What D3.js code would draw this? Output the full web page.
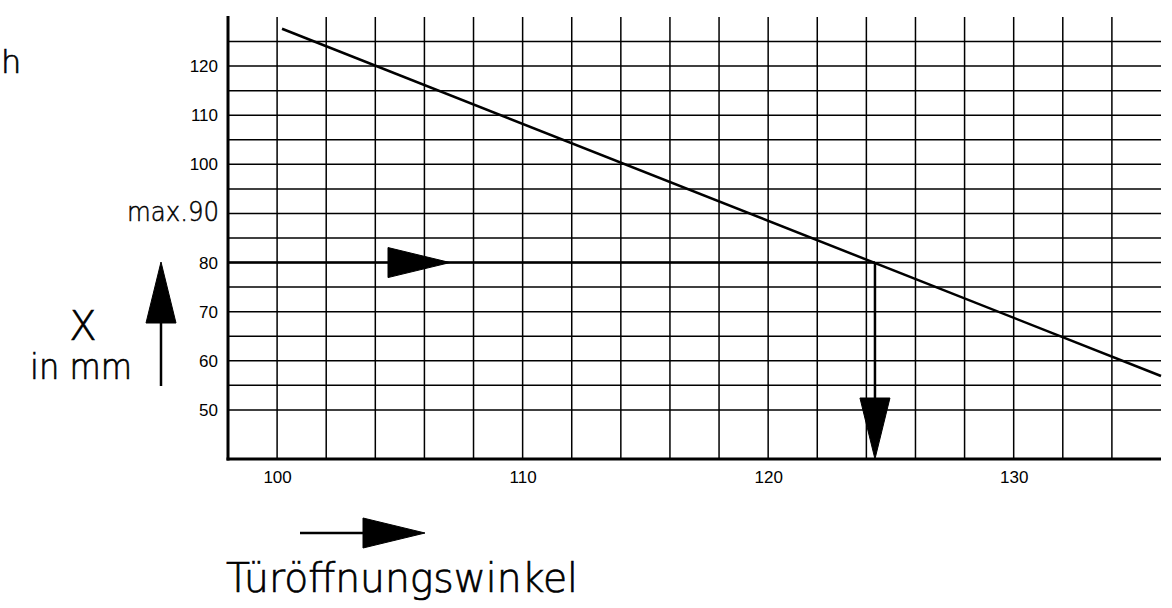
<!DOCTYPE html>
<html>
<head>
<meta charset="utf-8">
<script src="https://cdn.jsdelivr.net/npm/d3@7"></script>
<style>
  html, body { margin: 0; padding: 0; background: #fff; }
  svg { display: block; }
  text.cad { font-family: "DejaVu Sans", sans-serif; font-weight: 200; fill: #000; stroke: #000; stroke-width: 0.7; }
  .tick text { font-family: "Liberation Sans", Arial, sans-serif; fill: #000; }
  .tick text.cad { font-family: "DejaVu Sans", sans-serif; font-weight: 200; fill: #000; stroke: #000; stroke-width: 0.5; }
</style>
</head>
<body>
<svg id="chart" width="1172" height="608"></svg>
<script>
// ---- data ----
const xDomain = [98, 136];
const yDomain = [40, 130];
const xTickValues = [100, 110, 120, 130];
const xTickLabels = ["100", "110", "120", "130"];
const yTickValues = [50, 60, 70, 80, 90, 100, 110, 120];
const yTickLabels = ["50", "60", "70", "80", "max.90", "100", "110", "120"];
const xGridValues = [100, 102, 104, 106, 108, 110, 112, 114, 116, 118, 120, 122, 124, 126, 128, 130, 132, 134];
const yGridValues = [50, 55, 60, 65, 70, 75, 80, 85, 90, 95, 100, 105, 110, 115, 120, 125];
const curveX = [100.2, 136];
const curveY = [127.6, 56.9];
const readingX = 124.35;
const readingY = 80;
const xTitle = "Türöffnungswinkel";
const yTitle = "X";
const yUnit = "in mm";
const cornerText = "h";

// ---- layout ----
const svg = d3.select("#chart");
const x = d3.scaleLinear().domain(xDomain).range([228, 1161]);
const y = d3.scaleLinear().domain(yDomain).range([459, 17]);

// grid
svg.append("g").selectAll("line").data(yGridValues).join("line")
  .attr("x1", x(xDomain[0])).attr("x2", x(xDomain[1]))
  .attr("y1", d => y(d)).attr("y2", d => y(d))
  .attr("stroke", "#000").attr("stroke-width", 1.5);
svg.append("g").selectAll("line").data(xGridValues).join("line")
  .attr("x1", d => x(d)).attr("x2", d => x(d))
  .attr("y1", y(yDomain[1])).attr("y2", y(yDomain[0]))
  .attr("stroke", "#000").attr("stroke-width", 1.5);

// axes lines (thick)
svg.append("line").attr("x1", x(xDomain[0])).attr("x2", x(xDomain[0]))
  .attr("y1", y(yDomain[1]) - 1).attr("y2", y(yDomain[0]) + 1.5)
  .attr("stroke", "#000").attr("stroke-width", 3);
svg.append("line").attr("x1", x(xDomain[0]) - 1.5).attr("x2", x(xDomain[1]))
  .attr("y1", y(yDomain[0])).attr("y2", y(yDomain[0]))
  .attr("stroke", "#000").attr("stroke-width", 3);

// tick labels via d3 axes
const yAxis = d3.axisLeft(y).tickValues(yTickValues).tickSize(0).tickPadding(10)
  .tickFormat((d, i) => yTickLabels[i]);
const gy = svg.append("g").attr("transform", `translate(${x(xDomain[0])},0)`).call(yAxis);
gy.select(".domain").remove();
gy.selectAll(".tick text").attr("font-size", 17)
  .filter((d, i) => yTickLabels[i].startsWith("max"))
  .attr("class", "cad").attr("font-size", 27).attr("dy", "0.25em").attr("x", -9)
  .attr("textLength", 92).attr("lengthAdjust", "spacingAndGlyphs");

const xAxis = d3.axisBottom(x).tickValues(xTickValues).tickSize(0).tickPadding(12)
  .tickFormat((d, i) => xTickLabels[i]);
const gx = svg.append("g").attr("transform", `translate(0,${y(yDomain[0])})`).call(xAxis);
gx.select(".domain").remove();
gx.selectAll(".tick text").attr("font-size", 17);

// characteristic line
const line = d3.line().x(d => x(d[0])).y(d => y(d[1]));
svg.append("path").datum(curveX.map((v, i) => [v, curveY[i]]))
  .attr("d", line).attr("fill", "none").attr("stroke", "#000").attr("stroke-width", 2.5);

// reading lines
svg.append("line").attr("x1", x(xDomain[0])).attr("x2", x(readingX))
  .attr("y1", y(readingY)).attr("y2", y(readingY))
  .attr("stroke", "#000").attr("stroke-width", 2.5);
svg.append("line").attr("x1", x(readingX)).attr("x2", x(readingX))
  .attr("y1", y(readingY)).attr("y2", y(yDomain[0]) - 20)
  .attr("stroke", "#000").attr("stroke-width", 2.5);

function tri(points) {
  svg.append("path").attr("d", "M" + points.map(p => p.join(",")).join("L") + "Z")
    .attr("fill", "#000").attr("stroke", "#000").attr("stroke-width", 1);
}
// horizontal arrow head on 80 line
{
  const bx = 388, tx = 450, cy = y(readingY);
  tri([[bx, cy - 15], [tx, cy], [bx, cy + 15]]);
}
// vertical arrow head down to axis
{
  const cx = x(readingX), by = 398, ty = y(yDomain[0]);
  tri([[cx - 15, by], [cx, ty], [cx + 15, by]]);
}
// Y-axis indicator arrow (left)
svg.append("line").attr("x1", 161).attr("x2", 161).attr("y1", 386).attr("y2", 320)
  .attr("stroke", "#000").attr("stroke-width", 2.5);
tri([[146, 323], [161, 262], [176, 323]]);
// X-axis indicator arrow (bottom)
svg.append("line").attr("x1", 300).attr("x2", 366).attr("y1", 533).attr("y2", 533)
  .attr("stroke", "#000").attr("stroke-width", 2.5);
tri([[363, 518], [425, 533], [363, 548]]);

// texts
svg.append("text").attr("class", "cad").attr("x", 226).attr("y", 592)
  .attr("font-size", 40).attr("textLength", 352).attr("lengthAdjust", "spacingAndGlyphs")
  .text(xTitle);
svg.append("text").attr("class", "cad").attr("x", 83).attr("y", 340)
  .attr("text-anchor", "middle").attr("font-size", 40).text(yTitle);
svg.append("text").attr("class", "cad").attr("x", 30).attr("y", 379)
  .attr("font-size", 35).attr("textLength", 102).attr("lengthAdjust", "spacingAndGlyphs")
  .text(yUnit);
svg.append("text").attr("class", "cad").attr("x", 1).attr("y", 73)
  .attr("font-size", 32).text(cornerText);
</script>
</body>
</html>
